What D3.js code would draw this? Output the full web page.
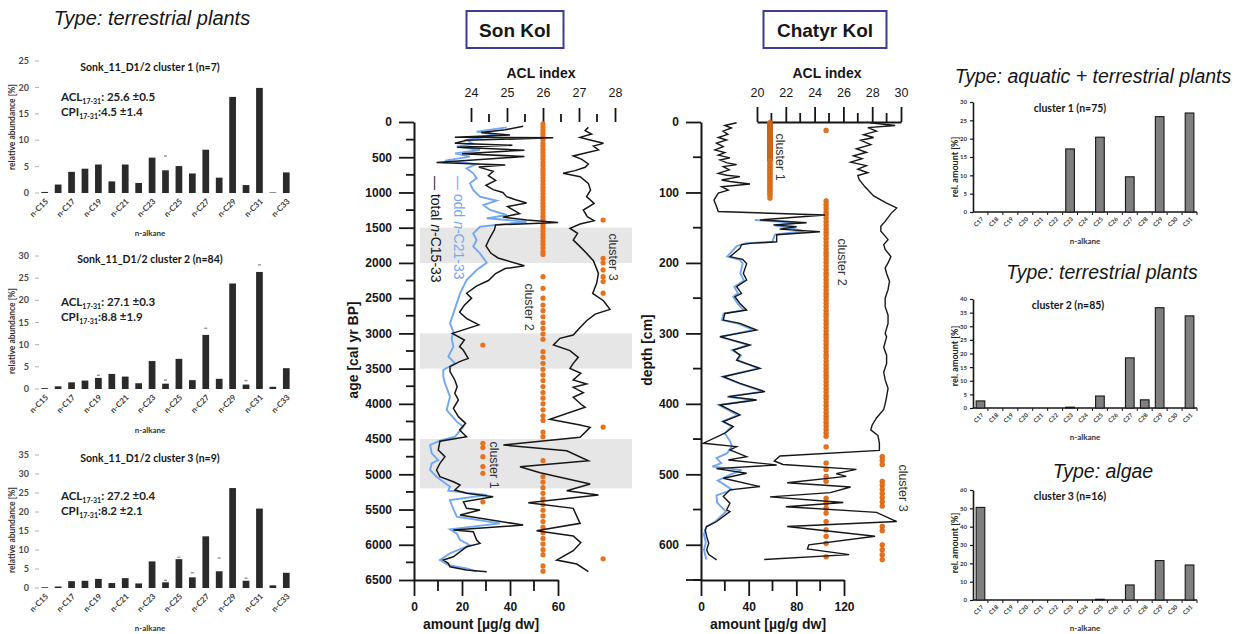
<!DOCTYPE html>
<html>
<head>
<meta charset="utf-8">
<script src="https://cdn.jsdelivr.net/npm/d3@7"></script>
<style>
  body { margin: 0; background: #fff; }
  svg { display: block; }
</style>
</head>
<body>
<svg id="fig" width="1242" height="634"></svg>
<script>
// ---------- n-alkane cluster profiles (left column, Son Kol core Sonk_11_D1/2) ----------
const leftAlkanes = ["n-C15","n-C16","n-C17","n-C18","n-C19","n-C20","n-C21","n-C22","n-C23","n-C24",
                     "n-C25","n-C26","n-C27","n-C28","n-C29","n-C30","n-C31","n-C32","n-C33"];
const leftTickLabels = ["n-C15","n-C17","n-C19","n-C21","n-C23","n-C25","n-C27","n-C29","n-C31","n-C33"];
const sonkCluster1 = [0.2,1.6,4.0,4.6,5.4,2.2,5.4,1.9,6.7,4.3,5.1,3.7,8.2,2.9,18.2,1.5,19.9,0.1,3.9];
const sonkCluster2 = [0.2,0.6,1.5,1.9,2.5,3.4,2.8,1.3,6.3,1.2,6.8,2.0,12.2,2.3,23.8,1.0,26.4,0.5,4.7];
const sonkCluster3 = [0.2,0.4,1.8,1.9,2.4,1.3,2.6,1.2,7.0,1.5,7.6,2.8,13.6,4.4,26.3,1.9,20.9,0.7,4.0];
// upper error marks (mean + sd), null where none is drawn
const sonkErr1 = [null,null,null,null,null,null,null,null,null,7.0,null,null,null,null,null,null,null,null,null];
const sonkErr2 = [null,null,null,null,3.1,null,null,null,null,2.0,null,null,13.7,null,null,1.9,28.0,null,null];
const sonkErr3 = [null,null,null,null,null,null,null,null,null,2.0,8.1,4.0,null,7.9,null,2.6,null,null,null];

// ---------- Son Kol down-core records (age in cal yr BP) ----------
const sonKolBands = [[1500,2000],[3000,3500],[4500,5200]];
const sonKolTotal = [[60,45.5],[110,38],[150,28],[185,40],[215,17],[225,58],[260,22],[300,17],[330,41],[360,18],
  [400,46],[450,20],[490,46],[575,9.4],[610,38],[640,27],[700,33],[760,31],[830,34],[900,30],[960,33],[1000,37],
  [1060,38.6],[1100,42],[1150,46.9],[1200,39],[1250,41.5],[1300,44],[1350,37],[1390,47],[1425,60],[1460,34],
  [1530,33.5],[1650,31.5],[1760,30],[1860,32],[1930,35],[2040,46],[2080,38],[2150,34],[2250,31],[2330,26],
  [2430,21.9],[2500,24],[2600,21],[2700,19],[2790,22],[2880,27],[3000,16],[3094,21],[3188,19],[3236,20.5],
  [3354,22.6],[3401,19],[3472,15],[3543,15],[3661,17],[3756,18],[3850,17],[3945,18.5],[4063,16.4],[4182,18.5],
  [4277,21.5],[4371,19],[4466,21.9],[4530,10.8],[4655,10.1],[4750,12.9],[4845,10.8],[4939,9.4],[5034,10.8],
  [5105,16.4],[5152,19.2],[5223,17],[5270,21.9],[5318,33],[5389,20.6],[5483,21.9],[5507,27.5],[5578,19.2],
  [5720,45.5],[5791,16.4],[5815,24.7],[5933,26.1],[5980,27.5],[6028,22],[6170,16.4],[6217,12.2],[6264,14.3],
  [6312,15],[6359,21.9],[6382,30.3]];
const sonKolOdd = [[76,38.6],[137,26.1],[185,34.4],[256,21.9],[312,24.7],[350,17.8],[397,27.5],[445,17.1],[492,23.3],
  [549,12.9],[596,26.1],[658,21.9],[728,24.7],[800,26.1],[870,23.3],[966,24.7],[1060,27.5],[1117,34.4],[1178,28.9],
  [1249,31.7],[1320,38.6],[1367,30.3],[1415,46.9],[1486,27.5],[1580,24.7],[1675,26.1],[1769,24.7],[1864,27.5],
  [1997,30.3],[2101,26.1],[2243,21.9],[2432,19.2],[2574,17.8],[2716,16.4],[2858,15],[2976,16.4],[3070,15.7],
  [3188,16.4],[3330,14.3],[3425,17.1],[3519,12.2],[3614,12.2],[3708,12.9],[3898,15],[4087,13.6],[4253,17.8],
  [4324,20.6],[4466,17.1],[4523,10.8],[4584,6.7],[4703,7.4],[4797,10.1],[4845,7.4],[4939,6.7],[5034,9.4],
  [5176,15],[5233,14.3],[5294,30.3],[5365,15],[5436,15.7],[5602,17.8],[5696,35.8],[5781,15],[5838,17.8],
  [5933,19.2],[6004,23.3],[6122,15],[6217,10.8],[6288,14.3],[6335,21.9],[6382,26.1]];
const sonKolACL = [[76,27.26],[123,27.17],[171,27.35],[218,27.03],[256,27.31],[303,27.68],[341,27.4],[397,27.54],
  [435,27.21],[482,26.84],[530,27.08],[596,27.26],[643,27.17],[690,26.89],[728,26.56],[776,27.03],[871,27.26],
  [966,27.32],[1060,27.21],[1154,27.42],[1249,27.12],[1344,27.23],[1400,27.42],[1448,27.03],[1509,26.75],
  [1580,26.96],[1675,26.84],[1769,27.03],[1864,27.21],[1968,27.4],[2148,27.54],[2290,27.49],[2432,27.38],
  [2536,27.68],[2659,27.86],[2726,27.45],[2820,27.21],[2915,27.03],[3024,26.84],[3070,26.47],[3165,26.29],
  [3245,26.75],[3340,26.98],[3425,26.84],[3496,26.75],[3566,27.05],[3661,26.84],[3718,27.21],[3765,26.84],
  [3841,27.12],[3907,26.84],[4002,27.05],[4049,27.17],[4220,26.19],[4300,27.03],[4333,27.31],[4475,27.03],
  [4584,24.9],[4665,26.66],[4807,27.26],[4892,25.36],[4977,25.92],[5138,27.31],[5233,26.66],[5294,27.54],
  [5403,25.59],[5483,26.84],[5696,27.03],[5800,25.82],[5876,26.84],[5970,27.05],[6084,26.84],[6217,26.38],
  [6274,26.94],[6382,27.26]];
// sample ages by cluster membership
const sonKolC1Ages = [3165,4560,4620,4750,4890,4985,5390];
const sonKolC2Ages = [25,70,118,160,205,252,298,340,388,432,478,522,570,615,660,702,748,795,838,885,930,972,
  1020,1065,1108,1155,1200,1245,1292,1338,1380,1455,1500,1548,1595,1640,1688,1735,1785,1840,1880,
  2195,2360,2500,2597,2678,2764,2849,2929,3009,3085,3260,3340,3425,3510,3590,3670,3755,3840,3920,4000,4085,
  4170,4235,4400,4466,4807,5034,5110,5190,5270,5350,5430,5510,5590,5670,5750,5830,5910,5990,6070,6140,6300,6375];
const sonKolC3Ages = [1391,1935,2000,2100,2195,2265,2430,4330,6200];

// ---------- Chatyr Kol down-core records (depth in cm) ----------
const chatyrTotal = [[1,29.9],[5,20],[8.5,25.5],[13,18.5],[17.5,22.5],[22,14.5],[25.5,21.5],[30,13],[35,18.7],
  [39.7,11.7],[43.5,20],[47,14.5],[51,24.3],[54,16],[58,22],[60.5,29.9],[63.4,18.7],[68,23.7],[73,14.5],
  [75.5,21.5],[77.6,32.7],[82.4,17.3],[84.5,24.3],[88,41.1],[91.8,17.3],[96.6,22.9],[101,14.5],[110.8,10.9],
  [120,13],[127,14.5],[132,104],[139,49.5],[143,88.6],[146,60.7],[148.6,80.2],[152,66],[155.7,99.8],[160,63.5],
  [170,63.5],[172.3,41.1],[174,34],[179.4,32.7],[191.2,24.3],[195,35],[201,38.3],[214.9,35.5],[224.3,38.3],
  [233.8,29.9],[243.3,34],[248,28.5],[257.5,32.7],[266.9,38.3],[271.7,20],[281.1,18.7],[285.8,32.7],[295.3,46.7],
  [304.7,15.9],[316.5,41.1],[323.7,27.1],[330.8,32.7],[337.9,29.9],[349.6,49.5],[361.5,18.7],[370.9,32.7],
  [382.7,53.7],[389.8,23],[394.5,46.7],[401.6,15.9],[415.8,32.7],[425.2,18.7],[432.3,27.1],[441.7,20],
  [455.9,2],[460.7,29.9],[465.4,24.3],[474.9,38.3],[479.6,23],[486.7,63.5],[492,13],[498.5,38.3],[505.6,18.7],
  [517.4,49.5],[522.1,24.3],[531.6,18.7],[541,24.3],[550.5,21.5],[552.8,24.3],[567,13.1],[574.1,4.75],
  [578.8,3.5],[588.3,4.75],[597.8,6.5],[607.2,4.75],[614,6.5],[621.4,13.1]];
const chatyrOdd = [[139,45],[143,80],[147,62],[151,76],[155,86],[160,62],[170,60],[172,38],[176,30],[191,22],
  [196,33],[201,35],[215,33],[225,36],[234,28],[243,31],[248,27],[258,31],[267,36],[272,19],[281,17.5],[286,31],
  [295,44],[305,15.9],[316.5,40],[324,26],[331,33.5],[338,30.5],[349.6,48],[361.5,18],[371,32],[382.7,52],
  [390,22],[394.5,45],[401.6,15],[416,31],[425,18],[432,26],[442,20],[452,24],[460,26],[470,22],[477,13],
  [484,17],[489,9.5],[494,34],[500,25],[509,14],[515,20],[522,26],[530,13],[540,13.5],[548,18],[553,21],
  [567,12],[574,4.75],[585,2.5],[597,4],[607,2.5],[621,4.5]];
const chatyrACL = [[1,27.85],[5,29.6],[8,27.7],[13,28.3],[18,27.4],[22,28.1],[26,27.2],[32,27.9],[38,26.9],
  [43,27.6],[48,26.7],[52,27.3],[57,26.5],[62,27.6],[67,27.0],[72,27.7],[76,27.0],[82,27.1],[92,27.5],[105,28.1],
  [115,29.0],[122,29.7],[130,29.3],[141,28.9],[148,28.6],[155,28.6],[162,28.9],[167,29.1],[174,28.8],[181,28.9],
  [191,29.3],[200,29.1],[207,28.9],[215,29.0],[226,29.2],[238,29.1],[250,28.9],[262,28.9],[274,29.1],[286,29.1],
  [300,28.9],[305,29.0],[320,28.8],[331,29.0],[343,29.0],[355,28.8],[366,28.9],[378,29.1],[390,29.0],[400,28.9],
  [408,28.8],[420,28.3],[430,28.0],[437,27.9],[445,28.4],[456,28.5],[466,28.5],[474,21.6],[481,21.2],[486,21.8],
  [493,26.9],[499,25.5],[503,26.2],[512,22.1],[518,26.5],[526,25.1],[532,20.9],[540,26.0],[546,22.0],[554,28.3],
  [567,29.7],[574,22.1],[588,28.2],[600,23.6],[606,23.5],[614,26.4],[621,20.5]];
const chatyrC1Depths = [1,2,3,4,5,6,7,8,9,10,11,12,13,14,15,16,17,18,19,20,21,22,23,24,25,26,27,28,29,30,31,32,
  33,34,35,36,37,38,39,40,41,42,43,44,45,46,47,48,49,50,51,52,53,54,55,58,61,63,66,68,71,73,76,78,81,83,86,88,
  91,93,96,98,101,104,108];
const chatyrC2Depths = [12,112,117,122,127,131,136,141,146,151,156,160,165,170,175,180,185,189,194,199,204,209,
  214,218,223,228,233,238,243,247,252,257,262,267,272,276,281,286,291,296,301,305,310,315,320,325,330,334,339,
  344,349,354,359,363,368,373,378,383,388,392,397,402,407,412,417,421,426,431,436,441,446,461,484,493,503,510,
  534,541,548,555,567,579,588,598,617];
const chatyrC3Depths = [475,480,486,510,515,521,527,533,539,545,574,580,600,607,614,621];

// ---------- mean cluster compositions (right column) ----------
const rightAlkanes = ["C17","C18","C19","C20","C21","C22","C23","C24","C25","C26","C27","C28","C29","C30","C31"];
const meanCluster1 = [0,0,0,0,0,0,17.2,0,20.4,0,9.6,0,26.0,0,27.0];
const meanCluster2 = [2.6,0,0,0,0,0,0.3,0,4.4,0,18.4,3.0,36.8,0,33.8];
const meanCluster3 = [50.5,0,0,0,0,0,0,0,0.4,0,8.2,0,21.5,0,19.1];

// ---------- drawing ----------
const svg = d3.select("#fig");
const SANS = "'Liberation Sans', Arial, sans-serif";
const HUM = "Lato, 'Open Sans', sans-serif";
const ORANGE = "#e8711c";
const BLUE = "#72a8f2";
const INK = "#161616";
const plain = d3.format("d");

function txt(g, x, y, s, o = {}) {
  return g.append("text").attr("x", x).attr("y", y)
    .attr("font-family", o.family || SANS).attr("font-size", o.size || 12)
    .attr("font-weight", o.weight || "normal").attr("font-style", o.style || "normal")
    .attr("fill", o.fill || INK).attr("text-anchor", o.anchor || "start").text(s);
}

// ---- left column: relative abundance bar charts ----
function leftPanel(o) {
  const g = svg.append("g");
  const x = d3.scaleBand().domain(leftAlkanes).range([38, 293]).paddingInner(0.5).paddingOuter(0.25);
  const y = d3.scaleLinear().domain([0, o.max]).range([o.y0, o.yTop]);
  const ticks = y.ticks(o.max / 5);
  g.selectAll(".tk").data(ticks).join("line")
    .attr("x1", 35).attr("x2", 39).attr("y1", d => y(d)).attr("y2", d => y(d))
    .attr("stroke", "#b0b0b0").attr("stroke-width", 1);
  g.selectAll(".tl").data(ticks).join("text")
    .attr("x", 29).attr("y", d => y(d)).attr("dy", "0.35em").attr("text-anchor", "end")
    .attr("font-family", HUM).attr("font-size", 9).attr("font-weight", "bold").attr("fill", "#4a4a4a")
    .text(d => d);
  g.selectAll(".bar").data(o.values).join("rect")
    .attr("x", (d, i) => x(leftAlkanes[i])).attr("width", x.bandwidth())
    .attr("y", d => y(d)).attr("height", d => o.y0 - y(d)).attr("fill", "#2a2a2a");
  g.selectAll(".err").data(o.err.map((e, i) => [e, i]).filter(d => d[0] !== null)).join("line")
    .attr("x1", d => x(leftAlkanes[d[1]]) + x.bandwidth() / 2 - 1.5)
    .attr("x2", d => x(leftAlkanes[d[1]]) + x.bandwidth() / 2 + 1.5)
    .attr("y1", d => y(d[0])).attr("y2", d => y(d[0]))
    .attr("stroke", "#8a8a8a").attr("stroke-width", 1.3);
  g.selectAll(".xl").data(leftTickLabels).join("text")
    .attr("transform", d => `translate(${x(d) + x.bandwidth() / 2 + 2},${o.y0 + 7}) rotate(-45)`)
    .attr("text-anchor", "end").attr("dy", "0.35em")
    .attr("font-family", HUM).attr("font-size", 8).attr("font-weight", "bold").attr("fill", "#3a3a3a")
    .text(d => d);
  txt(g, 150, o.titleY, o.title, { family: HUM, size: 10.5, weight: "bold", anchor: "middle" });
  const acl = txt(g, 61, o.aclY, "ACL", { family: HUM, size: 11.5, weight: "bold", fill: "#222" });
  acl.append("tspan").attr("font-size", 7).attr("dy", 3).text("17-31");
  acl.append("tspan").attr("dy", -3).text(": " + o.acl);
  const cpi = txt(g, 61, o.aclY + 15, "CPI", { family: HUM, size: 11.5, weight: "bold", fill: "#222" });
  cpi.append("tspan").attr("font-size", 7).attr("dy", 3).text("17-31");
  cpi.append("tspan").attr("dy", -3).text(":" + o.cpi);
  txt(g, 150, o.xLabelY, "n-alkane", { family: HUM, size: 8, weight: "bold", anchor: "middle", fill: "#333" });
  g.append("text").attr("transform", `translate(15,${o.yLabelC}) rotate(-90)`)
    .attr("text-anchor", "middle").attr("font-family", HUM).attr("font-size", 8.5)
    .attr("font-weight", "bold").attr("fill", "#333").text("relative abundance [%]");
}

txt(svg, 152, 25, "Type: terrestrial  plants", { size: 20, style: "italic", anchor: "middle" });
leftPanel({ values: sonkCluster1, err: sonkErr1, max: 25, y0: 193, yTop: 61, titleY: 71,
  title: "Sonk_11_D1/2 cluster 1 (n=7)", acl: "25.6 \u00b10.5", cpi: "4.5 \u00b11.4", aclY: 101,
  xLabelY: 236, yLabelC: 127 });
leftPanel({ values: sonkCluster2, err: sonkErr2, max: 30, y0: 389, yTop: 256, titleY: 263,
  title: "Sonk_11_D1/2 cluster 2 (n=84)", acl: "27.1 \u00b10.3", cpi: "8.8 \u00b11.9", aclY: 306,
  xLabelY: 433, yLabelC: 331 });
leftPanel({ values: sonkCluster3, err: sonkErr3, max: 35, y0: 588, yTop: 455, titleY: 462,
  title: "Sonk_11_D1/2 cluster 3 (n=9)", acl: "27.2 \u00b10.4", cpi: "8.2 \u00b12.1", aclY: 500,
  xLabelY: 631, yLabelC: 530 });

// ---- shared helpers for the two core plots ----
function styleAxis(g, size, weight) {
  g.attr("font-family", SANS).attr("font-size", size).attr("font-weight", weight);
  g.selectAll("text").attr("fill", INK);
  g.selectAll("line").attr("stroke", INK).attr("stroke-width", 1.8);
  g.select(".domain").attr("stroke", INK).attr("stroke-width", 2);
}
function titleBox(cx, w, label) {
  svg.append("rect").attr("x", cx - w / 2).attr("y", 11).attr("width", w).attr("height", 37)
    .attr("fill", "#fff").attr("stroke", "#3c3c96").attr("stroke-width", 2);
  txt(svg, cx, 37, label, { size: 19, weight: "bold", anchor: "middle" });
}
function vLabel(x, y, s, size, rot = 90) {
  return svg.append("text").attr("transform", `translate(${x},${y}) rotate(${rot})`)
    .attr("font-family", SANS).attr("font-size", size).attr("text-anchor", "middle")
    .attr("fill", "#333").text(s);
}

// ---- Son Kol ----
{
  const yAge = d3.scaleLinear().domain([0, 6500]).range([122, 580]);
  const xAmt = d3.scaleLinear().domain([0, 60]).range([414, 558]);
  const xACL = d3.scaleLinear().domain([24, 28]).range([471, 615]);
  const col = d3.scalePoint().domain(["cluster 1", "cluster 2", "cluster 3"]).range([xACL(24.33), xACL(27.67)]);

  titleBox(515, 97, "Son Kol");
  svg.selectAll(".skband").data(sonKolBands).join("rect")
    .attr("x", 420).attr("width", 212).attr("y", d => yAge(d[0])).attr("height", d => yAge(d[1]) - yAge(d[0]))
    .attr("fill", "#e6e6e6");

  const left = svg.append("g").attr("transform", "translate(414,0)")
    .call(d3.axisLeft(yAge).tickValues(d3.range(0, 6501, 500)).tickFormat(plain)
      .tickSize(15).tickSizeOuter(0).tickPadding(7));
  styleAxis(left, 12, "bold");
  left.selectAll(".minor").data(d3.range(250, 6500, 500)).join("line")
    .attr("x1", -8).attr("x2", 0).attr("y1", d => yAge(d)).attr("y2", d => yAge(d))
    .attr("stroke", INK).attr("stroke-width", 1.8);

  const bottom = svg.append("g").attr("transform", "translate(0,580)")
    .call(d3.axisBottom(xAmt).tickValues([0, 20, 40, 60]).tickFormat(plain)
      .tickSize(16).tickSizeOuter(0).tickPadding(6));
  styleAxis(bottom, 12, "bold");
  bottom.selectAll(".minor").data([10, 30, 50]).join("line")
    .attr("x1", d => xAmt(d)).attr("x2", d => xAmt(d)).attr("y1", 0).attr("y2", 11)
    .attr("stroke", INK).attr("stroke-width", 1.8);

  const top = svg.append("g").attr("transform", "translate(0,122)")
    .call(d3.axisTop(xACL).tickValues([24, 25, 26, 27, 28]).tickFormat(plain).tickSize(14).tickPadding(11));
  styleAxis(top, 12.5, "normal");
  top.select(".domain").remove();
  top.selectAll(".minor").data([24.5, 25.5, 26.5, 27.5]).join("line")
    .attr("x1", d => xACL(d)).attr("x2", d => xACL(d)).attr("y1", 0).attr("y2", -8)
    .attr("stroke", INK).attr("stroke-width", 1.8);
  txt(svg, 541, 78, "ACL index", { size: 14, weight: "bold", anchor: "middle" });

  svg.append("text").attr("transform", "translate(358,350) rotate(-90)")
    .attr("font-family", SANS).attr("font-size", 14).attr("font-weight", "bold")
    .attr("text-anchor", "middle").attr("fill", INK).text("age [cal yr BP]");
  txt(svg, 481, 629, "amount [\u00b5g/g dw]", { size: 14, weight: "bold", anchor: "middle" });

  const dots = [["cluster 1", sonKolC1Ages], ["cluster 2", sonKolC2Ages], ["cluster 3", sonKolC3Ages]]
    .flatMap(([c, ages]) => ages.map(a => ({ c, a })));
  svg.selectAll(".skdot").data(dots).join("circle")
    .attr("cx", d => col(d.c)).attr("cy", d => yAge(d.a)).attr("r", 2.6)
    .attr("fill", ORANGE);

  const amtLine = d3.line().x(d => xAmt(d[1])).y(d => yAge(d[0]));
  const aclLine = d3.line().x(d => xACL(d[1])).y(d => yAge(d[0]));
  svg.append("path").attr("d", amtLine(sonKolOdd)).attr("fill", "none").attr("stroke", BLUE).attr("stroke-width", 1.9);
  svg.append("path").attr("d", amtLine(sonKolTotal)).attr("fill", "none").attr("stroke", INK).attr("stroke-width", 1.5);
  svg.append("path").attr("d", aclLine(sonKolACL)).attr("fill", "none").attr("stroke", INK).attr("stroke-width", 1.5);

  vLabel(609, 257, "cluster 3", 12.5);
  vLabel(525, 307, "cluster 2", 12.5);
  vLabel(490, 465, "cluster 1", 12.5);

  const lt = svg.append("text").attr("transform", "translate(431,176) rotate(90)")
    .attr("font-family", SANS).attr("font-size", 14).attr("fill", INK);
  lt.append("tspan").text("\u2014 total ");
  lt.append("tspan").attr("font-style", "italic").text("n");
  lt.append("tspan").text("-C15-33");
  const lo = svg.append("text").attr("transform", "translate(454,176) rotate(90)")
    .attr("font-family", SANS).attr("font-size", 14).attr("fill", BLUE);
  lo.append("tspan").text("\u2014 odd ");
  lo.append("tspan").attr("font-style", "italic").text("n");
  lo.append("tspan").text("-C21-33");
}

// ---- Chatyr Kol ----
{
  const yDep = d3.scaleLinear().domain([0, 650]).range([122, 580]);
  const xAmt = d3.scaleLinear().domain([0, 120]).range([701, 844]);
  const xACL = d3.scaleLinear().domain([20, 30]).range([757, 901]);
  const col = d3.scalePoint().domain(["cluster 1", "cluster 2", "cluster 3"]).range([xACL(20.9), xACL(28.7)]);

  titleBox(825, 123, "Chatyr Kol");

  const left = svg.append("g").attr("transform", "translate(701,0)")
    .call(d3.axisLeft(yDep).tickValues(d3.range(0, 601, 100)).tickFormat(plain)
      .tickSize(15).tickSizeOuter(0).tickPadding(7));
  styleAxis(left, 12, "bold");
  left.selectAll(".minor").data(d3.range(50, 651, 100)).join("line")
    .attr("x1", -8).attr("x2", 0).attr("y1", d => yDep(d)).attr("y2", d => yDep(d))
    .attr("stroke", INK).attr("stroke-width", 1.8);
  left.append("line").attr("x1", -15).attr("x2", 0).attr("y1", yDep(650)).attr("y2", yDep(650))
    .attr("stroke", INK).attr("stroke-width", 1.8);

  const bottom = svg.append("g").attr("transform", "translate(0,580)")
    .call(d3.axisBottom(xAmt).tickValues([0, 40, 80, 120]).tickFormat(plain)
      .tickSize(16).tickSizeOuter(0).tickPadding(6));
  styleAxis(bottom, 12, "bold");
  bottom.selectAll(".minor").data([20, 60, 100]).join("line")
    .attr("x1", d => xAmt(d)).attr("x2", d => xAmt(d)).attr("y1", 0).attr("y2", 11)
    .attr("stroke", INK).attr("stroke-width", 1.8);

  const top = svg.append("g").attr("transform", "translate(0,122)")
    .call(d3.axisTop(xACL).tickValues([20, 22, 24, 26, 28, 30]).tickFormat(plain)
      .tickSize(15).tickSizeOuter(0).tickPadding(10));
  styleAxis(top, 12.5, "normal");
  top.selectAll(".minor").data([21, 23, 25, 27, 29]).join("line")
    .attr("x1", d => xACL(d)).attr("x2", d => xACL(d)).attr("y1", 0).attr("y2", -9)
    .attr("stroke", INK).attr("stroke-width", 1.8);
  txt(svg, 827, 78, "ACL index", { size: 14, weight: "bold", anchor: "middle" });

  svg.append("text").attr("transform", "translate(652,350) rotate(-90)")
    .attr("font-family", SANS).attr("font-size", 14).attr("font-weight", "bold")
    .attr("text-anchor", "middle").attr("fill", INK).text("depth [cm]");
  txt(svg, 768, 629, "amount [\u00b5g/g dw]", { size: 14, weight: "bold", anchor: "middle" });

  // uppermost, densely sampled cluster-1 interval shows through as a darker column
  const dots = [["cluster 1", chatyrC1Depths], ["cluster 2", chatyrC2Depths], ["cluster 3", chatyrC3Depths]]
    .flatMap(([c, ds]) => ds.map(v => ({ c, v })));
  svg.selectAll(".ckdot").data(dots).join("circle")
    .attr("cx", d => col(d.c)).attr("cy", d => yDep(d.v)).attr("r", 2.6)
    .attr("fill", ORANGE).attr("stroke", "#5a2a0a").attr("stroke-width", 0.45).attr("stroke-opacity", 0.3);

  const amtLine = d3.line().x(d => xAmt(d[1])).y(d => yDep(d[0]));
  const aclLine = d3.line().x(d => xACL(d[1])).y(d => yDep(d[0]));
  svg.append("path").attr("d", amtLine(chatyrOdd)).attr("fill", "none").attr("stroke", BLUE).attr("stroke-width", 1.9);
  svg.append("path").attr("d", amtLine(chatyrTotal)).attr("fill", "none").attr("stroke", INK).attr("stroke-width", 1.4);
  svg.append("path").attr("d", aclLine(chatyrACL)).attr("fill", "none").attr("stroke", INK).attr("stroke-width", 1.4);

  vLabel(776, 157, "cluster 1", 12.5);
  vLabel(838, 262, "cluster 2", 12.5);
  vLabel(899, 488, "cluster 3", 12.5);
}

// ---- right column: mean cluster compositions ----
function rightPanel(o) {
  const g = svg.append("g");
  const x = d3.scaleBand().domain(rightAlkanes).range([973, 1197]).paddingInner(0.42).paddingOuter(0.21);
  const y = d3.scaleLinear().domain([0, o.max]).range([o.y0, o.yTop]);
  txt(g, o.typeX, o.typeY, o.type, { size: 19.5, style: "italic", anchor: "middle" });
  txt(g, o.titleX, o.titleY, o.title, { family: HUM, size: 10.5, weight: "bold", anchor: "middle" });
  const ya = g.append("g").attr("transform", "translate(973,0)")
    .call(d3.axisLeft(y).tickValues(d3.range(0, o.max + 1, o.step)).tickSize(3).tickSizeOuter(0).tickPadding(3));
  ya.attr("font-family", HUM).attr("font-size", 6).attr("font-weight", "bold");
  ya.selectAll("text").attr("fill", "#333");
  ya.selectAll("line").attr("stroke", INK).attr("stroke-width", 1.2);
  ya.select(".domain").attr("stroke", INK).attr("stroke-width", 1.6);
  g.append("line").attr("x1", 973).attr("x2", 1197).attr("y1", o.y0).attr("y2", o.y0)
    .attr("stroke", INK).attr("stroke-width", 1.6);
  g.selectAll(".xt").data(rightAlkanes).join("line")
    .attr("x1", d => x(d) + x.bandwidth() / 2 + x.step() / 2).attr("x2", d => x(d) + x.bandwidth() / 2 + x.step() / 2)
    .attr("y1", o.y0).attr("y2", o.y0 + 3).attr("stroke", INK).attr("stroke-width", 1);
  g.selectAll(".bar").data(o.values.map((v, i) => [rightAlkanes[i], v]).filter(d => d[1] > 0)).join("rect")
    .attr("x", d => x(d[0])).attr("width", x.bandwidth())
    .attr("y", d => y(d[1])).attr("height", d => o.y0 - y(d[1]))
    .attr("fill", "#7f7f7f").attr("stroke", INK).attr("stroke-width", 1.1);
  g.selectAll(".xl").data(rightAlkanes).join("text")
    .attr("transform", d => `translate(${x(d) + x.bandwidth() / 2 + 2},${o.y0 + 6}) rotate(-45)`)
    .attr("text-anchor", "end").attr("dy", "0.35em")
    .attr("font-family", HUM).attr("font-size", 6).attr("font-weight", "bold").attr("fill", "#333")
    .text(d => d);
  g.append("text").attr("transform", `translate(958,${o.yLabelC}) rotate(-90)`)
    .attr("text-anchor", "middle").attr("font-family", HUM).attr("font-size", 9)
    .attr("font-weight", "bold").attr("fill", "#222").text("rel. amount [%]");
  txt(g, 1085, o.xLabelY, "n-alkane", { family: HUM, size: 8, weight: "bold", anchor: "middle", fill: "#333" });
}

rightPanel({ values: meanCluster1, max: 30, step: 5, y0: 212, yTop: 102,
  type: "Type: aquatic + terrestrial plants", typeX: 1093, typeY: 83,
  title: "cluster 1 (n=75)", titleX: 1070, titleY: 112, yLabelC: 167, xLabelY: 244 });
rightPanel({ values: meanCluster2, max: 40, step: 5, y0: 408, yTop: 299,
  type: "Type: terrestrial  plants", typeX: 1102, typeY: 279,
  title: "cluster 2 (n=85)", titleX: 1068, titleY: 309, yLabelC: 356, xLabelY: 440 });
rightPanel({ values: meanCluster3, max: 60, step: 10, y0: 600, yTop: 490,
  type: "Type: algae", typeX: 1103, typeY: 478,
  title: "cluster 3 (n=16)", titleX: 1070, titleY: 500, yLabelC: 543, xLabelY: 631 });
</script>
</body>
</html>
